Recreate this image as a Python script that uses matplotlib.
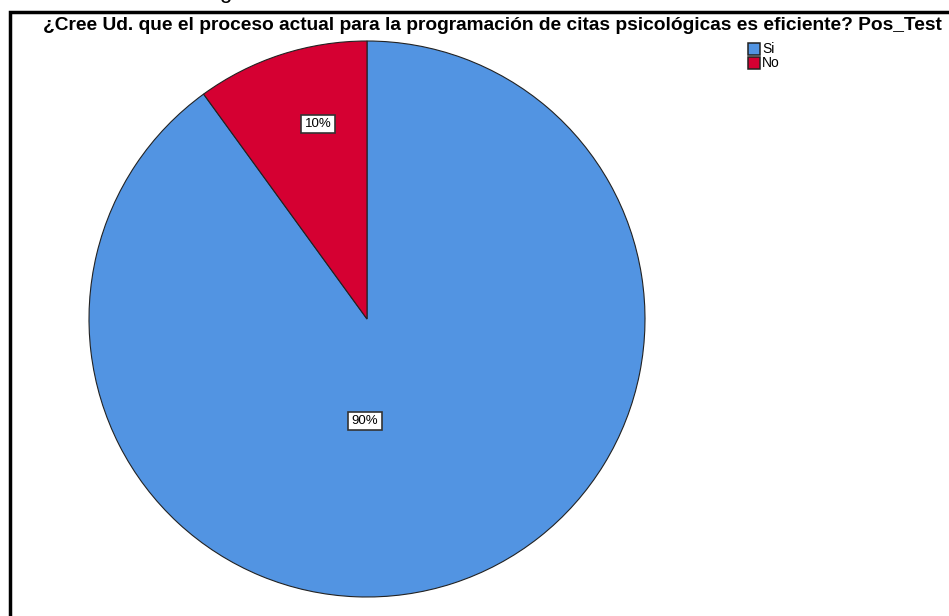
import matplotlib.pyplot as plt
from matplotlib.patches import Rectangle

labels = ['Si', 'No']
values = [90, 10]
pct_text = ['90%', '10%']
colors = ['#5294E2', '#D50032']
title = '¿Cree Ud. que el proceso actual para la programación de citas psicológicas es eficiente? Pos_Test'

W, H = 949, 616
fig = plt.figure(figsize=(W / 100, H / 100), dpi=100)
ax = fig.add_axes([0, 0, 1, 1])

# pie in pixel space (y flipped)
cx, cy, r = 367, H - 319, 278
wedges, _ = ax.pie(values, colors=colors, startangle=90, counterclock=False,
                   center=(cx, cy), radius=r, frame=True,
                   wedgeprops=dict(edgecolor='#222222', linewidth=0.8))
ax.set_xlim(0, W)
ax.set_ylim(0, H)
ax.set_aspect('equal')
ax.axis('off')

box = dict(boxstyle='square,pad=0.25', facecolor='white', edgecolor='#333333', linewidth=1.2)
ax.text(365, H - 421, pct_text[0], fontsize=9.5, family='Liberation Sans',
        ha='center', va='center', bbox=box)
ax.text(318, H - 124, pct_text[1], fontsize=9.5, family='Liberation Sans',
        ha='center', va='center', bbox=box)

# frame
ax.add_patch(Rectangle((10, -20), W + 20, H - 12 + 20, fill=False,
                       edgecolor='black', linewidth=2.5, clip_on=False))

ax.text(492, H - 25, title, fontsize=13.8, family='Liberation Sans', weight='bold',
        ha='center', va='center')

# legend
for i, (lab, col) in enumerate(zip(labels, colors)):
    y0 = H - 55 - i * 14
    ax.add_patch(Rectangle((748, y0), 12, 12, facecolor=col, edgecolor='#222222', linewidth=1.1))
    ax.text(762, y0 + 6, lab, fontsize=10, family='Liberation Sans', ha='left', va='center')

# cut-off caption above the frame
ax.text(225, H + 2, 'g', fontsize=16, family='Liberation Sans', ha='center', va='baseline',
        clip_on=False)

fig.savefig('out.png', dpi=100)
